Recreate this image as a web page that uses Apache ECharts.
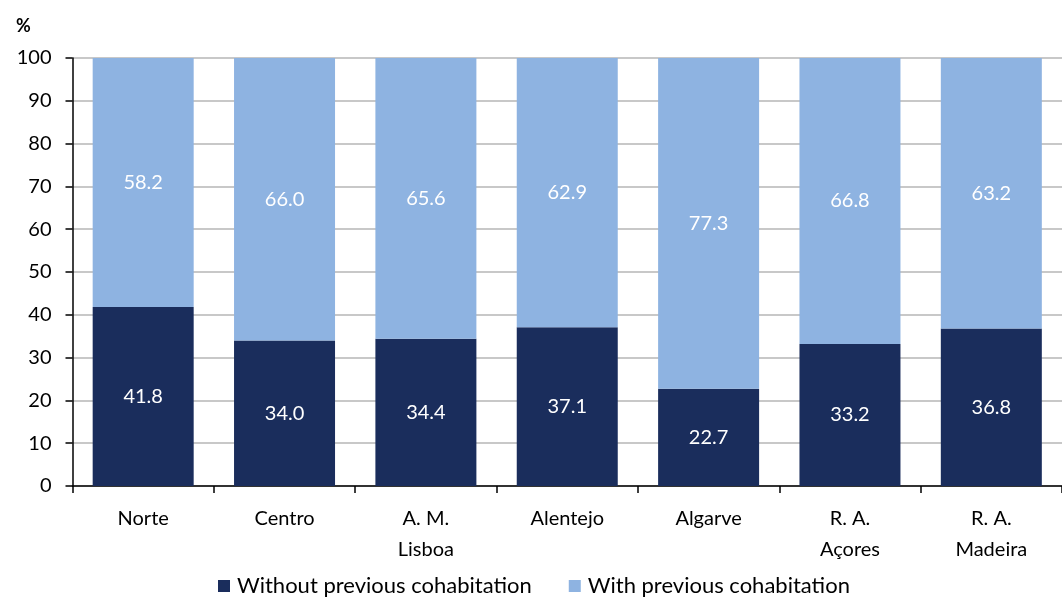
<!DOCTYPE html>
<html><head><meta charset="utf-8">
<script src="https://cdn.jsdelivr.net/npm/echarts@6/dist/echarts.min.js"></script>
<style>html,body{margin:0;padding:0;background:#fff}#c{width:1062px;height:599px}</style>
</head><body><div id="c"></div>
<script>
const categories = ["Norte", "Centro", "A. M.\nLisboa", "Alentejo", "Algarve", "R. A.\nAçores", "R. A.\nMadeira"];
const withoutPrev = [41.8, 34.0, 34.4, 37.1, 22.7, 33.2, 36.8];
const withPrev = [58.2, 66.0, 65.6, 62.9, 77.3, 66.8, 63.2];
const seriesNames = ["Without previous cohabitation", "With previous cohabitation"];
const FONT = "Lato, 'Open Sans', sans-serif";
const chart = echarts.init(document.getElementById('c'), null, {renderer: 'canvas'});
const lbl = {show: true, position: 'inside', color: '#fff', fontSize: 20, fontFamily: FONT, formatter: p => p.value.toFixed(1)};
chart.setOption({
  animation: false,
  textStyle: {fontFamily: FONT},
  title: {text: '%', left: 11, top: 12, textStyle: {fontSize: 18, fontWeight: 'bold', color: '#000', fontFamily: FONT}},
  grid: {left: 72.5, top: 58, width: 994, height: 428, containLabel: false},
  legend: {
    top: 570, left: 213, itemWidth: 12, itemHeight: 12, itemGap: 37, icon: 'rect',
    textStyle: {fontSize: 22, color: '#000', fontFamily: FONT, padding: [0, 0, 0, 2]},
    data: seriesNames
  },
  xAxis: {
    type: 'category', data: categories,
    axisLine: {lineStyle: {color: '#000', width: 1.5}},
    axisTick: {show: true, length: 7, lineStyle: {color: '#000', width: 1.5}},
    axisLabel: {fontSize: 20, color: '#000', margin: 17, lineHeight: 31, fontFamily: FONT}
  },
  yAxis: {
    type: 'value', min: 0, max: 100, interval: 10,
    axisLine: {show: true, lineStyle: {color: '#000', width: 1.5}},
    axisTick: {show: true, length: 7, inside: false, lineStyle: {color: '#000', width: 1.5}},
    axisLabel: {fontSize: 20, color: '#000', margin: 21, fontFamily: FONT},
    splitLine: {lineStyle: {color: '#c8c8c8', width: 2}}
  },
  series: [
    {name: seriesNames[0], type: 'bar', stack: 's', data: withoutPrev, barWidth: 101, itemStyle: {color: '#1a2d5c'}, label: lbl},
    {name: seriesNames[1], type: 'bar', stack: 's', data: withPrev, barWidth: 101, itemStyle: {color: '#8eb3e1'}, label: lbl}
  ]
});
</script></body></html>
